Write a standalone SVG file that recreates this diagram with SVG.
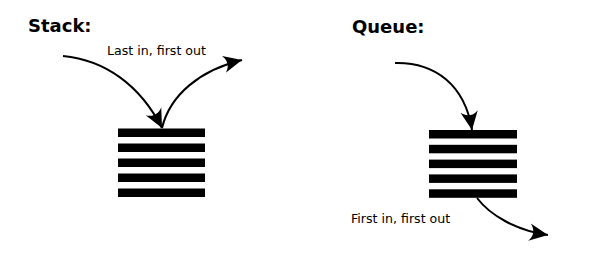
<svg xmlns="http://www.w3.org/2000/svg" width="604" height="255" viewBox="0 0 604 255">
<style>
.title{font-family:"DejaVu Sans",sans-serif;font-weight:bold;font-size:18px;fill:#000}
.label{font-family:"DejaVu Sans",sans-serif;font-size:12.6px;fill:#000}
.bar{fill:#000}
.conn{fill:none;stroke:#000;stroke-width:2}
</style>
<defs>
<marker id="ah" markerUnits="userSpaceOnUse" markerWidth="20" markerHeight="20" viewBox="-15 -8 16 16" refX="0" refY="0" orient="auto">
<path d="M0,0 L-15,-7 C-11,-2.5 -11,2.5 -15,7 Z" fill="#000"/>
</marker>
</defs>
<rect width="604" height="255" fill="#fff"/>
<g id="stack">
<text class="title" x="28" y="32">Stack:</text>
<text class="label" x="107" y="55">Last in, first out</text>
<rect class="bar" x="118" y="128.5" width="87" height="8.5"/>
<rect class="bar" x="118" y="143.5" width="87" height="8.5"/>
<rect class="bar" x="118" y="158.5" width="87" height="8.5"/>
<rect class="bar" x="118" y="173.5" width="87" height="8.5"/>
<rect class="bar" x="118" y="188.5" width="87" height="8.5"/>
</g>
<g id="queue">
<text class="title" x="352" y="33">Queue:</text>
<text class="label" x="351" y="223">First in, first out</text>
<rect class="bar" x="429" y="130" width="88" height="8.5"/>
<rect class="bar" x="429" y="144.8" width="88" height="8.5"/>
<rect class="bar" x="429" y="159.6" width="88" height="8.5"/>
<rect class="bar" x="429" y="174.4" width="88" height="8.5"/>
<rect class="bar" x="429" y="189.3" width="88" height="8.5"/>
</g>
<g id="connectors">
<path class="conn" marker-end="url(#ah)" d="M63,56 C105,60 140,85 162,128"/>
<path class="conn" marker-end="url(#ah)" d="M162,128 C170,95 200,70 242,60"/>
<path class="conn" marker-end="url(#ah)" d="M395,63 C435,62 465,85 472,130"/>
<path class="conn" marker-end="url(#ah)" d="M477,198 C490,215 515,230 548,235"/>
</g>
</svg>
